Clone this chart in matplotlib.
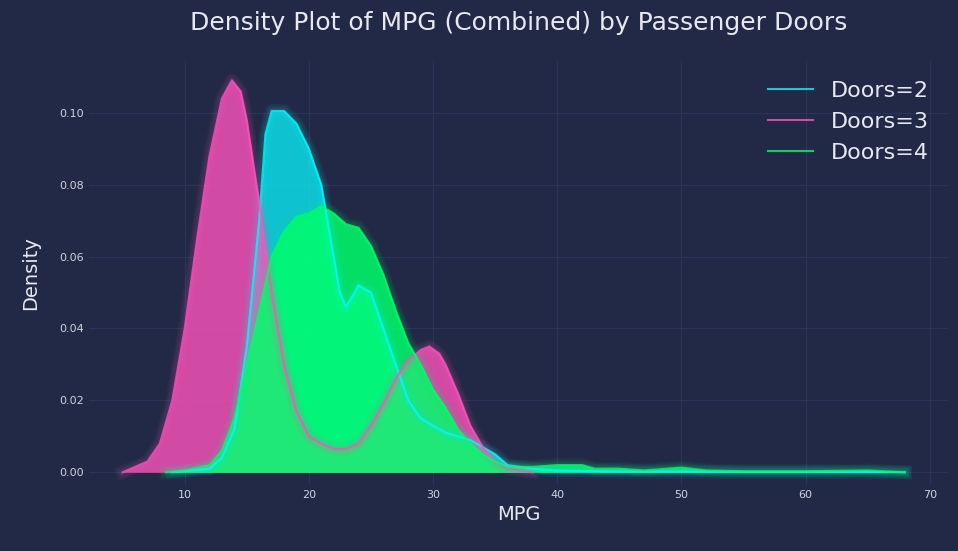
import matplotlib
matplotlib.use("Agg")
import matplotlib.pyplot as plt
import numpy as np

x2 = [9,12,13,14,15,16,16.5,17,18,19,20,21,22,22.5,23,24,25,26,27,28,29,30,31,32,33,34,35,36,38,40,45,50,55,60,65,68]
y2 = [0,0.001,0.004,0.012,0.035,0.07,0.094,0.1005,0.1005,0.097,0.09,0.08,0.06,0.05,0.046,0.052,0.05,0.04,0.03,0.02,0.015,0.013,0.011,0.01,0.009,0.007,0.005,0.002,0.001,0.0005,0.0002,0.0002,0.0001,0.0001,0.0001,0]
x3 = [5,7,8,9,10,11,12,13,13.8,14.5,15,16,17,18,19,20,21,22,23,24,25,26,27,28,29,29.7,30.5,31,32,33,34,35,36,38]
y3 = [0,0.003,0.008,0.02,0.04,0.065,0.088,0.104,0.109,0.106,0.098,0.075,0.05,0.03,0.017,0.01,0.008,0.0065,0.0065,0.008,0.013,0.019,0.026,0.031,0.034,0.035,0.033,0.03,0.022,0.013,0.007,0.003,0.001,0]
x4 = [8.5,10,12,13,14,15,16,17,18,19,20,21,22,23,24,25,26,27,28,29,30,31,32,33,34,35,36,38,40,42,43,45,47,50,52,55,60,65,68]
y4 = [0,0.0005,0.002,0.006,0.015,0.03,0.045,0.06,0.067,0.071,0.072,0.074,0.072,0.069,0.068,0.063,0.055,0.045,0.036,0.03,0.023,0.018,0.012,0.008,0.005,0.003,0.0015,0.0015,0.002,0.002,0.001,0.001,0.0005,0.0013,0.0005,0.0003,0.0003,0.0005,0]

bg = "#212946"
fig, ax = plt.subplots(figsize=(9.58, 5.51), dpi=100)
fig.patch.set_facecolor(bg)
ax.set_facecolor(bg)
ax.set_axisbelow(True)
series = [("Doors=2", x2, y2, "#08F7FE", 0.75),
          ("Doors=3", x3, y3, "#FE53BB", 0.8),
          ("Doors=4", x4, y4, "#00ff6a", 0.85)]
for name, xs, ys, c, a in series:
    ax.fill_between(xs, ys, color=c, alpha=a, lw=0, zorder=2)
    for lw in [2, 4, 6, 8, 10]:
        ax.plot(xs, ys, color=c, lw=lw, alpha=0.05, zorder=3)
for name, xs, ys, c, a in series:
    ax.plot(xs, ys, color=c, lw=1.5, label=name, alpha=0.8, zorder=4)

ax.grid(True, color="#2A3459", lw=0.8, zorder=0)
for s in ax.spines.values():
    s.set_visible(False)
ax.tick_params(colors="#cfd3e0", labelsize=8, length=0)
ax.set_xlim(2.3, 71.5)
ax.set_ylim(-0.0035, 0.1145)
ax.set_xticks([10,20,30,40,50,60,70])
ax.set_yticks([0,0.02,0.04,0.06,0.08,0.10])
ax.set_yticklabels(["0.00","0.02","0.04","0.06","0.08","0.10"])
ax.set_xlabel("MPG", color="#e8e8f0", fontsize=14)
ax.set_ylabel("Density", color="#e8e8f0", fontsize=14, labelpad=14)
ax.set_title("Density Plot of MPG (Combined) by Passenger Doors", color="#e8e8f0", fontsize=18, pad=22)
ax.legend(fontsize=16, frameon=False, loc="upper right", labelcolor="#e8e8f0")
plt.subplots_adjust(left=0.093, right=0.99, top=0.89, bottom=0.12)
fig.savefig("out.png", dpi=100, facecolor=bg)
